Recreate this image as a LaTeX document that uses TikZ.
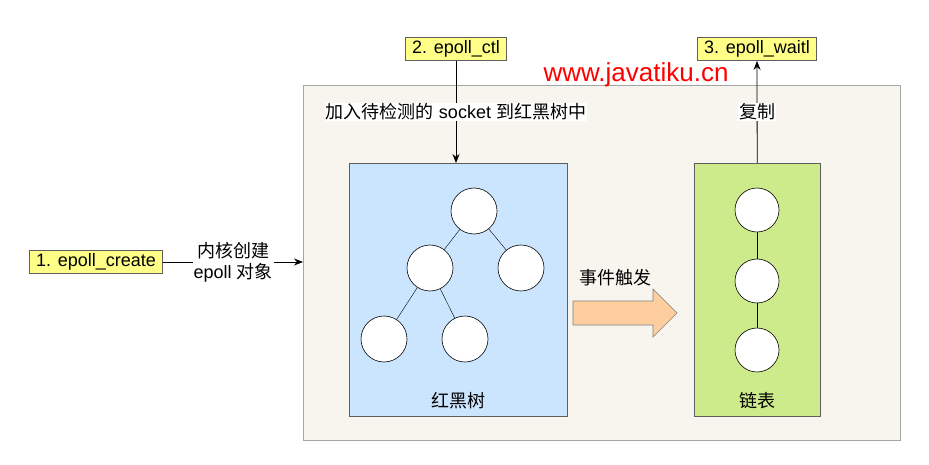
\documentclass[tikz,border=0pt]{standalone}
\usepackage{fontspec}
\setmainfont{Liberation Sans}
\newfontfamily\cjk{Noto Sans CJK SC}
\usepackage{xcolor}
\usetikzlibrary{arrows.meta,positioning,calc}
\definecolor{kernbg}{HTML}{F8F5EE}
\definecolor{treebg}{HTML}{CCE5FF}
\definecolor{listbg}{HTML}{CDEB8B}
\definecolor{callbg}{HTML}{FFFF88}
\definecolor{firebg}{HTML}{FFCE9F}
\definecolor{edge}{HTML}{5F5F5F}
\tikzset{
  txt/.style    ={font=\fontsize{18}{21}\selectfont, inner sep=1pt},
  callbox/.style={draw=edge, fill=callbg, txt, minimum height=23pt, inner xsep=7pt, line width=0.8pt},
  panel/.style  ={draw=edge, rectangle, anchor=north west, line width=0.8pt},
  circ/.style   ={draw=black, fill=white, circle, minimum size=46pt, inner sep=0pt, line width=0.6pt},
  lbl/.style    ={txt, fill=white, align=center},
  ar/.style     ={-{Stealth[length=9pt,width=7pt]}, line width=0.8pt},
}
\begin{document}
\begin{tikzpicture}[x=1pt,y=-1pt]
\useasboundingbox (0,0) rectangle (929,465);
% containers
\node[panel, draw=gray!70, fill=kernbg, minimum width=597pt, minimum height=355pt] (kern) at (303,85) {};
\node[panel, fill=treebg, minimum width=218pt, minimum height=253pt] (tree) at (349,163) {};
\node[panel, fill=listbg, minimum width=126pt, minimum height=253pt] (list) at (694,163) {};
\node[txt] (treelbl) at (458,401) {\cjk 红黑树};
\node[txt] (listlbl) at (757,401) {\cjk 链表};
% tree
\node[circ] (r) at (474,211) {};
\node[circ] (a) at (430,268) {};
\node[circ] (b) at (521,268) {};
\node[circ] (c) at (384,339) {};
\node[circ] (d) at (465,339) {};
\draw (r) -- (a);
\draw (r) -- (b);
\draw (a) -- (c);
\draw (a) -- (d);
% list
\node[circ, minimum size=44pt] (l1) at (757,210) {};
\node[circ, minimum size=44pt] (l2) at (757,281) {};
\node[circ, minimum size=44pt] (l3) at (757,350) {};
\draw (l1) -- (l2);
\draw (l2) -- (l3);
% calls
\node[callbox] (create) at (96,262) {1. epoll\_create};
\node[callbox] (ctl) at (456,49) {2. epoll\_ctl};
\node[callbox] (wait) at (757,49) {3. epoll\_waitl};
\draw[ar] (create) -- (create -| kern.west)
  node[lbl, midway] {{\cjk 内核创建}\\epoll {\cjk 对象}};
\draw[ar] (ctl) -- (tree.north -| ctl)
  node[lbl, midway] {{\cjk 加入待检测的} socket {\cjk 到红黑树中}};
\draw[ar] (list) -- (wait)
  node[lbl, midway] {\cjk 复制};
% event
\node[txt] (evt) at (615,278) {\cjk 事件触发};
\coordinate (fire) at (573,313);
\draw[draw=edge!80, fill=firebg, line width=0.6pt]
  (fire) ++(0,-12) -- ++(80,0) -- ++(0,-12) -- ++(24,24) -- ++(-24,24)
  -- ++(0,-12) -- ++(-80,0) -- cycle;
% mark
\node[font=\fontsize{26}{30}\selectfont, text=red, inner sep=0pt] (mark) at (636,75) {www.javatiku.cn};
\end{tikzpicture}
\end{document}
